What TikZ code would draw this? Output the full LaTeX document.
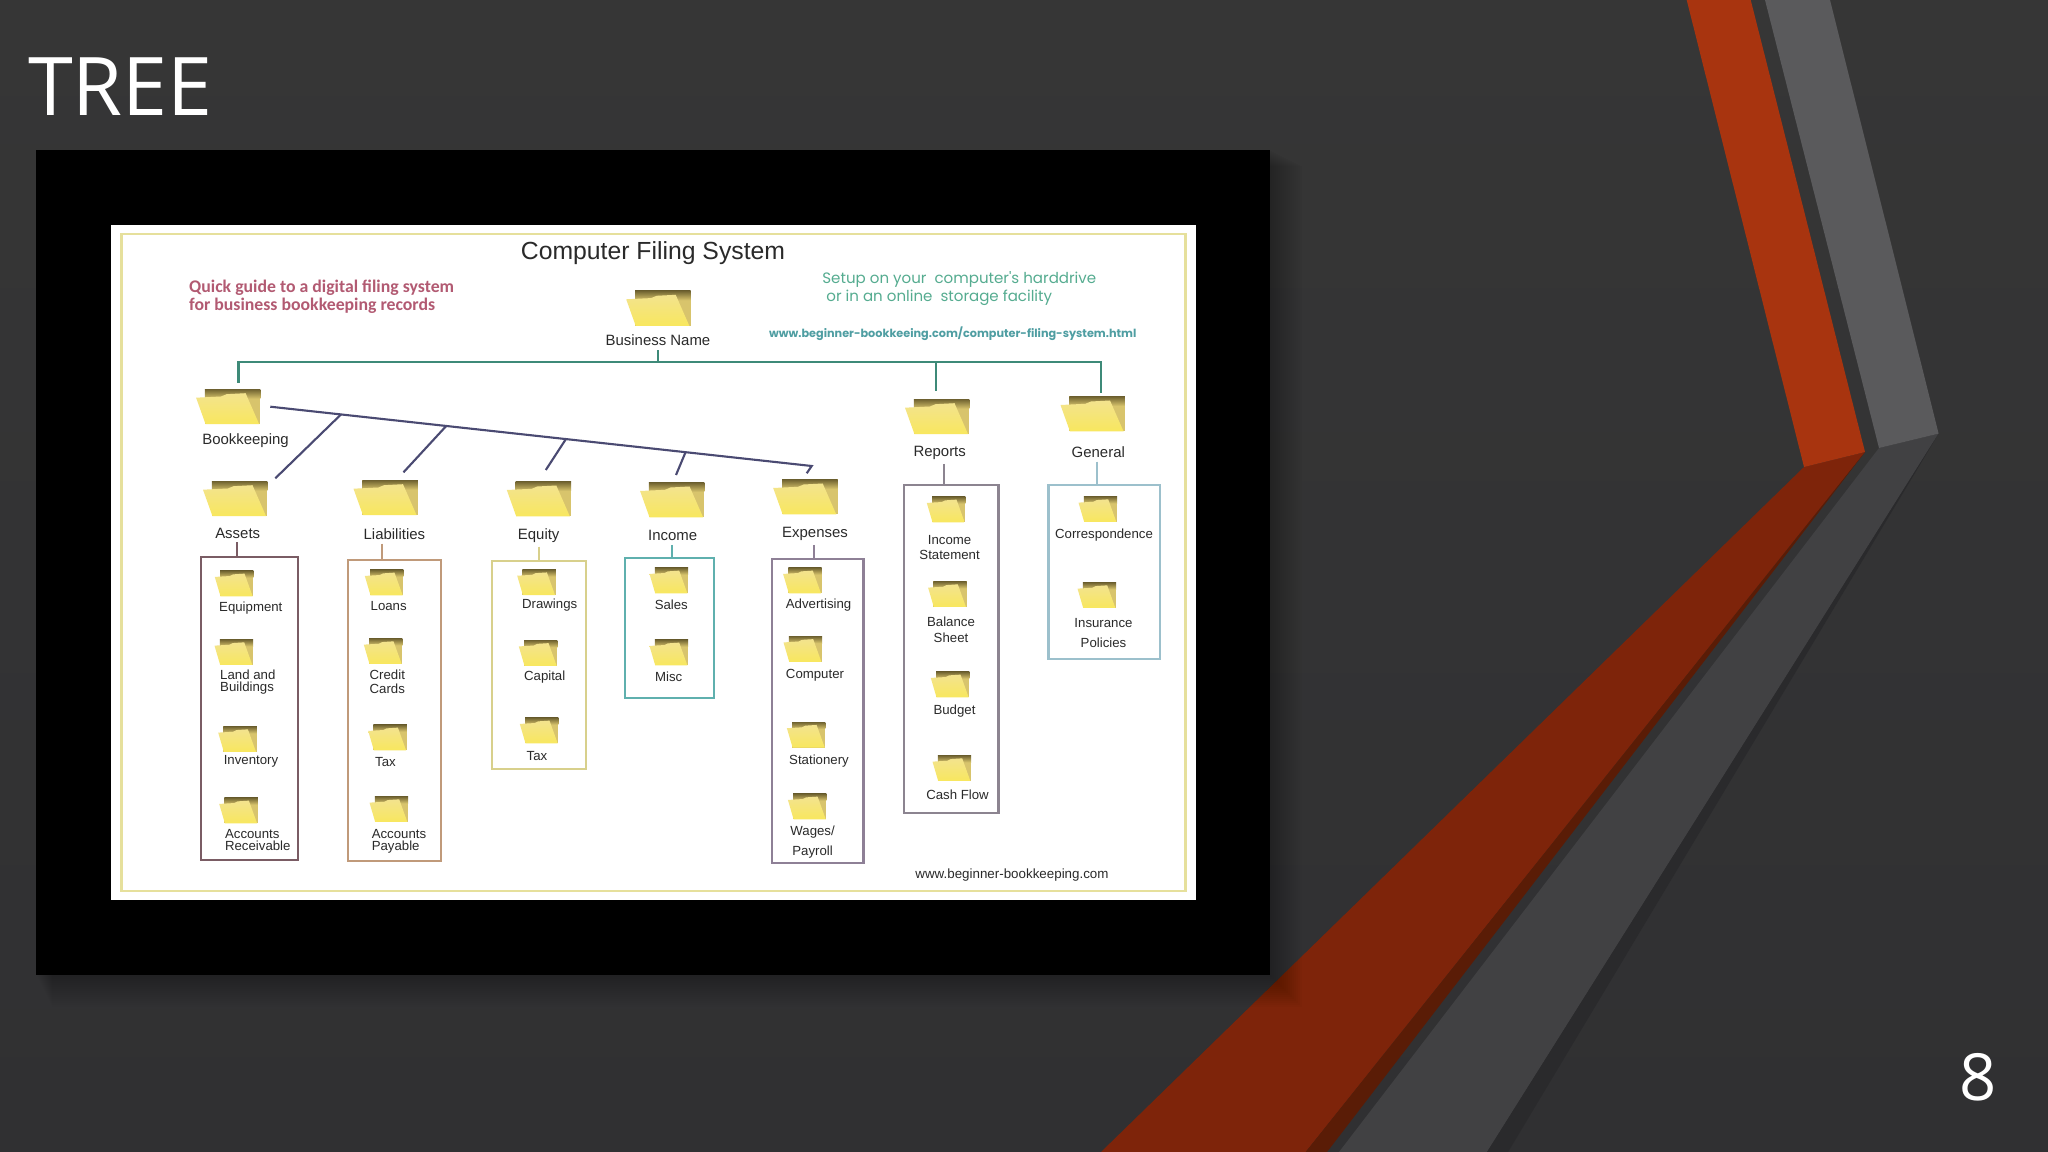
\documentclass[tikz,border=0pt]{standalone}
\usepackage{fontspec}
\setmainfont{Liberation Sans}
\newfontfamily\slidefont{Open Sans}
\newfontfamily\guidefont{Carlito}
\newfontfamily\handfont{Poppins}
\usepackage{xcolor}
\definecolor{slideTop}{HTML}{363636}
\definecolor{slideBottom}{HTML}{303032}
\definecolor{ribbonRed}{HTML}{A8340F}
\definecolor{ribbonRedDim}{HTML}{7E240A}
\definecolor{ribbonRedEdge}{HTML}{5A1C06}
\definecolor{ribbonGray}{HTML}{5A5A5C}
\definecolor{ribbonGrayDim}{HTML}{414143}
\definecolor{ribbonGrayEdge}{HTML}{2A2A2C}
\definecolor{frameYellow}{HTML}{E6E09C}
\definecolor{trunkGreen}{HTML}{3E8A78}
\definecolor{fanBlue}{HTML}{4A4A72}
\definecolor{guideRed}{HTML}{B25A72}
\definecolor{handGreen}{HTML}{55AC90}
\definecolor{urlTeal}{HTML}{4F9EA2}
\definecolor{labelInk}{HTML}{2A2A2A}
\definecolor{folderTop}{HTML}{F3E38E}
\definecolor{folderBottom}{HTML}{F8E75E}
\definecolor{folderBackTop}{HTML}{6F6230}
\definecolor{folderBackBottom}{HTML}{D8C46C}
\definecolor{assetsEdge}{HTML}{7A5C64}
\definecolor{liabEdge}{HTML}{C09A7A}
\definecolor{equityEdge}{HTML}{D8D08C}
\definecolor{incomeEdge}{HTML}{5FB0AE}
\definecolor{expenseEdge}{HTML}{8E8096}
\definecolor{reportEdge}{HTML}{8C8490}
\definecolor{generalEdge}{HTML}{9CC0CC}
\usepackage{tikz}
\usetikzlibrary{calc,fit}
\newcommand{\folderart}[2]{%
    \begin{scope}[shift={(path picture bounding box.center)},x=#1,y=#2]
        \fill[folderBackBottom] (-23.7,-17.5) -- (31.8,-17.5) -- (31.8,17.5) -- (-23.7,17.5) -- cycle;
        \shade[top color=folderBackTop,bottom color=folderBackBottom]
            (-23.7,-17.5) -- (31.8,-17.5) -- (31.8,-8) -- (-23.7,-8) -- cycle;
        \shade[top color=folderTop,bottom color=folderBottom]
            (-32.5,-9) -- (-7.6,-10.2) -- (-2,-12.5) -- (17,-13.5) -- (30.6,17.5) -- (-23,17.5) -- cycle;
    \end{scope}}
\tikzset{
    bigfolder/.style={
        rectangle,
        inner sep=0pt,
        minimum width=0.66cm,
        minimum height=0.38cm,
        path picture={\folderart{0.01cm}{-0.01cm}}
    },
    smallfolder/.style={
        rectangle,
        inner sep=0pt,
        minimum width=0.40cm,
        minimum height=0.28cm,
        path picture={\folderart{0.006cm}{-0.0073cm}}
    },
    biglabel/.style={
        inner sep=1pt,
        align=center,
        text=labelInk,
        font=\fontsize{4.25pt}{5pt}\selectfont
    },
    smalllabel/.style={
        inner sep=1pt,
        align=center,
        text=labelInk,
        font=\fontsize{3.76pt}{3.5pt}\selectfont
    },
    listbox/.style={
        rectangle,
        fit={#1},
        inner sep=0pt,
        line width=0.6pt
    },
    trunk/.style={
        line width=0.6pt,
        color=trunkGreen
    },
    fan/.style={
        line width=0.6pt,
        color=fanBlue
    }
}

\begin{document}
\begin{tikzpicture}[x=0.01cm,y=-0.01cm]
    % Slide
    \useasboundingbox (0,0) rectangle (2048,1152);
    \shade[top color=slideTop,bottom color=slideBottom] (0,0) rectangle (2048,1152);

    % Ribbons
    \fill[ribbonGrayDim] (1879,448) -- (1938.6,433.6) -- (1487,1152) -- (1339,1152) -- cycle;
    \fill[ribbonGrayEdge] (1938.6,433.6) -- (1508,1152) -- (1487,1152) -- cycle;
    \fill[ribbonGray] (1765,0) -- (1830,0) -- (1938.6,433.6) -- (1879,448) -- cycle;
    \fill[ribbonRedDim] (1804,467) -- (1865,452) -- (1305.6,1152) -- (1101,1152) -- cycle;
    \fill[ribbonRedEdge] (1865,452) -- (1327,1152) -- (1305.6,1152) -- cycle;
    \fill[ribbonRed] (1686.7,0) -- (1750.7,0) -- (1865,452) -- (1804,467) -- cycle;

    % Title and page number
    \node[inner sep=0pt,text=white,font=\slidefont\fontsize{23pt}{24pt}\selectfont] (slideTitle) at (120.5,87) {TREE};
    \node[inner sep=0pt,text=white,font=\slidefont\fontsize{18.5pt}{20pt}\selectfont] (pageNumber) at (1977.6,1077) {8};

    % Picture with its shadow
    \foreach \s in {0,2,...,32}
        \fill[black,opacity=0.018] (36+0.5*\s,150+0.5*\s) rectangle (1270+\s,975+\s);
    \fill[black] (36,150) rectangle (1270,975);
    \fill[white] (111,225) rectangle (1196,900);
    \draw[frameYellow,line width=0.85pt] (121.5,234) rectangle (1185,891);

    % Headings
    \node[inner sep=0pt,text=labelInk,font=\fontsize{7.04pt}{9pt}\selectfont] (chartTitle) at (653,253.5) {Computer Filing System};
    \node[inner sep=0pt,text=guideRed,align=left,anchor=west,font=\guidefont\bfseries\fontsize{5.05pt}{5.2pt}\selectfont] (guideNote) at (188.5,296.5) {Quick guide to a digital filing system\\for business bookkeeping records};
    \node[inner sep=0pt,text=handGreen,align=left,anchor=west,font=\handfont\fontsize{4.28pt}{5.05pt}\selectfont] (setupNote) at (821.7,288.5) {Setup on your\ \ computer's harddrive\\\ or in an online\ \ storage facility};
    \node[inner sep=0pt,text=urlTeal,font=\handfont\bfseries\fontsize{3.2pt}{4pt}\selectfont] (chartUrl) at (952.8,333.3) {www.beginner-bookkeeing.com/computer-filing-system.html};
    \node[inner sep=0pt,text=labelInk,font=\fontsize{3.8pt}{4pt}\selectfont] (siteUrl) at (1012,875) {www.beginner-bookkeeping.com};

    % Top level
    \node[bigfolder] (folBusiness) at (658.7,308.3) {};
    \node[biglabel] (lblBusiness) at (658,340.5) {Business Name};
    \node[bigfolder] (folBookkeeping) at (228.6,406.7) {};
    \node[biglabel] (lblBookkeeping) at (245.5,441) {Bookkeeping};
    \node[bigfolder] (folReports) at (937.5,416.7) {};
    \node[biglabel] (lblReports) at (939.7,453) {Reports};
    \node[bigfolder] (folGeneral) at (1093,414) {};
    \node[biglabel] (lblGeneral) at (1098.3,452) {General};

    % Second level
    \node[bigfolder] (folAssets) at (235.5,498.7) {};
    \node[biglabel] (lblAssets) at (237.7,533) {Assets};
    \node[bigfolder] (folLiab) at (386,497.7) {};
    \node[biglabel] (lblLiab) at (394.4,534) {Liabilities};
    \node[bigfolder] (folEquity) at (539.3,499) {};
    \node[biglabel] (lblEquity) at (538.7,535.5) {Equity};
    \node[bigfolder] (folIncome) at (672.6,500) {};
    \node[biglabel] (lblIncome) at (672.6,535.5) {Income};
    \node[bigfolder] (folExpense) at (805.7,497) {};
    \node[biglabel] (lblExpense) at (815,534) {Expenses};

    % List boxes
    \node[listbox={(201,557.3)(298,860)},draw=assetsEdge] (boxAssets) {};
    \node[listbox={(348.3,560)(441,861)},draw=liabEdge] (boxLiab) {};
    \node[listbox={(491.7,561.3)(585.7,769)},draw=equityEdge] (boxEquity) {};
    \node[listbox={(625,558.3)(714.4,698.3)},draw=incomeEdge] (boxIncome) {};
    \node[listbox={(771.6,559.3)(863.5,862.7)},draw=expenseEdge] (boxExpense) {};
    \node[listbox={(903.8,485)(998.5,813.3)},draw=reportEdge] (boxReports) {};
    \node[listbox={(1048.5,485)(1159.7,659)},draw=generalEdge] (boxGeneral) {};

    % Assets
    \node[smallfolder] (folEquipment) at (234.3,583.5) {};
    \node[smalllabel] (lblEquipment) at (250.8,608.3) {Equipment};
    \node[smallfolder] (folLand) at (234,652.2) {};
    \node[smalllabel,align=left] (lblLand) at (247.8,682.2) {Land and\\Buildings};
    \node[smallfolder] (folInventory) at (237.7,739.2) {};
    \node[smalllabel] (lblInventory) at (251,761.3) {Inventory};
    \node[smallfolder] (folReceivable) at (238.7,810.5) {};
    \node[smalllabel,align=left] (lblReceivable) at (257.8,840.3) {Accounts\\Receivable};

    % Liabilities
    \node[smallfolder] (folLoans) at (384.3,582.5) {};
    \node[smalllabel] (lblLoans) at (388.7,605.7) {Loans};
    \node[smallfolder] (folCredit) at (383.3,651.2) {};
    \node[smalllabel] (lblCredit) at (387.3,682) {Credit\\[0.5pt]Cards};
    \node[smallfolder] (folLiabTax) at (387.7,737.5) {};
    \node[smalllabel] (lblLiabTax) at (385.5,761.8) {Tax};
    \node[smallfolder] (folPayable) at (389,809.2) {};
    \node[smalllabel,align=left] (lblPayable) at (399,841) {Accounts\\Payable};

    % Equity
    \node[smallfolder] (folDrawings) at (536.7,582.3) {};
    \node[smalllabel] (lblDrawings) at (549.7,604.8) {Drawings};
    \node[smallfolder] (folCapital) at (538.3,653) {};
    \node[smalllabel] (lblCapital) at (544.7,677.5) {Capital};
    \node[smallfolder] (folEquityTax) at (539.3,730.5) {};
    \node[smalllabel] (lblEquityTax) at (537,755.7) {Tax};

    % Income
    \node[smallfolder] (folSales) at (669,580.5) {};
    \node[smalllabel] (lblSales) at (671.3,604.7) {Sales};
    \node[smallfolder] (folMisc) at (669,652.5) {};
    \node[smalllabel] (lblMisc) at (668.7,676.5) {Misc};

    % Expenses
    \node[smallfolder] (folAdvert) at (802.6,580.5) {};
    \node[smalllabel] (lblAdvert) at (818.6,605.2) {Advertising};
    \node[smallfolder] (folComputer) at (803,649) {};
    \node[smalllabel] (lblComputer) at (815,675.5) {Computer};
    \node[smallfolder] (folStationery) at (806.4,734.8) {};
    \node[smalllabel] (lblStationery) at (819,761.5) {Stationery};
    \node[smallfolder] (folWages) at (807.4,806.5) {};
    \node[smalllabel] (lblWages) at (812.6,842.5) {Wages/\\[1.2pt]Payroll};

    % Reports
    \node[smallfolder] (folStatement) at (946.3,509.5) {};
    \node[smalllabel] (lblStatement) at (949.6,547.2) {Income\\[0.8pt]Statement};
    \node[smallfolder] (folBalance) at (947.6,594.2) {};
    \node[smalllabel] (lblBalance) at (951,629.7) {Balance\\[1.1pt]Sheet};
    \node[smallfolder] (folBudget) at (950.3,684.5) {};
    \node[smalllabel] (lblBudget) at (954.5,711.5) {Budget};
    \node[smallfolder] (folCash) at (952,768.2) {};
    \node[smalllabel] (lblCash) at (957.5,795) {Cash Flow};

    % General
    \node[smallfolder] (folCorresp) at (1098,509.2) {};
    \node[smalllabel] (lblCorresp) at (1104,535.5) {Correspondence};
    \node[smallfolder] (folInsurance) at (1097,595.2) {};
    \node[smalllabel] (lblInsurance) at (1103.5,632.8) {Insurance\\[2.2pt]Policies};

    % Green trunk
    \coordinate (barRight) at (1101,361.7);
    \coordinate (dropBook) at (238.5,383);
    \coordinate (dropReports) at (935.7,391);
    \coordinate (dropGeneral) at (1101,393);
    \draw[trunk] (dropBook) |- (barRight) -- (dropGeneral);
    \draw[trunk] (dropReports) -- (dropReports |- barRight);
    \draw[trunk] (lblBusiness.south) -- (lblBusiness.south |- barRight);

    % Fan under Bookkeeping
    \coordinate (fanStart) at (270.3,406.7);
    \coordinate (fanEnd) at (811.7,466);
    \coordinate (fanTip) at (806.7,473.3);
    \coordinate (fanAssets) at (275.3,478.3);
    \coordinate (fanLiab) at (403.5,472.3);
    \coordinate (fanEquity) at (545.8,470);
    \coordinate (fanIncome) at (676,475);
    \draw[fan] (fanStart) -- (fanEnd) -- (fanTip);
    \draw[fan] (fanAssets) -- ($(fanStart)!0.1306!(fanEnd)$);
    \draw[fan] (fanLiab) -- ($(fanStart)!0.325!(fanEnd)$);
    \draw[fan] (fanEquity) -- ($(fanStart)!0.546!(fanEnd)$);
    \draw[fan] (fanIncome) -- ($(fanStart)!0.767!(fanEnd)$);

    % Stubs from headings to boxes
    \foreach \n/\x/\c in {Assets/236.7/assetsEdge,Liab/382.3/liabEdge,Equity/539.3/equityEdge,Income/671.7/incomeEdge,Expense/813.6/expenseEdge,Reports/944/reportEdge,General/1097/generalEdge}
        \draw[\c,line width=0.6pt] (\x,0 |- lbl\n.south) -- (\x,0 |- box\n.north);
\end{tikzpicture}
\end{document}
